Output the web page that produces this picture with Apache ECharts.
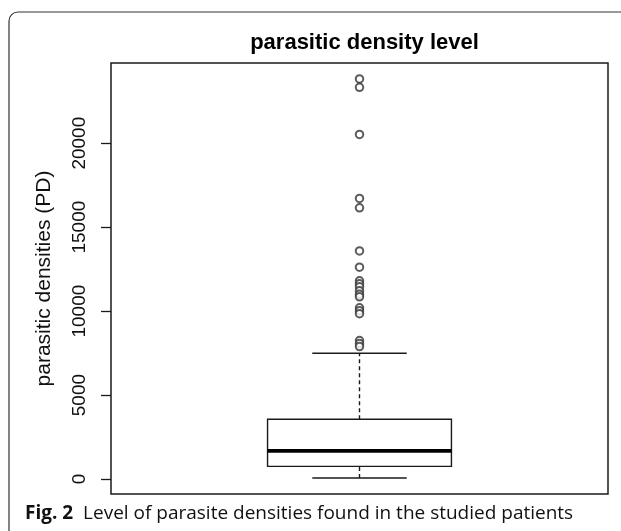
<!DOCTYPE html>
<html>
<head>
<meta charset="utf-8">
<script src="https://cdn.jsdelivr.net/npm/echarts@6/dist/echarts.min.js"></script>
<style>
  html, body { margin: 0; padding: 0; background: #fff; }
  #chart { width: 621px; height: 531px; }
</style>
</head>
<body>
<div id="chart"></div>
<script>
// ---- data ----
const categories = ['PD'];
// low whisker, Q1, median, Q3, high whisker
const boxStats = [59, 753, 1678, 3559, 7491];
const outliers = [23825, 23327, 20521, 16708, 16150, 13582, 12615, 11803, 11625,
                  11447, 11210, 11002, 10854, 10201, 10023, 9845, 8244, 8066, 7888];
const yTicks = [0, 5000, 10000, 15000, 20000];
const chartTitle = 'parasitic density level';
const yAxisTitle = 'parasitic densities (PD)';
const captionBold = 'Fig. 2';
const captionText = 'Level of parasite densities found in the studied patients';

// R-style axis range (data range extended by 4%)
const dataMin = Math.min(boxStats[0], ...outliers);
const dataMax = Math.max(boxStats[4], ...outliers);
const pad = (dataMax - dataMin) * 0.04;

const ink = '#1a1a1a';
const chart = echarts.init(document.getElementById('chart'), null, { renderer: 'canvas' });

chart.setOption({
  backgroundColor: '#fff',
  animation: false,
  title: {
    text: chartTitle,
    left: 359.5,
    textAlign: 'center',
    top: 27,
    textStyle: { fontFamily: 'Liberation Sans', fontWeight: 'bold', fontSize: 22, color: '#000' }
  },
  grid: {
    left: 111, right: 13, top: 63, bottom: 37,
    show: true, borderColor: ink, borderWidth: 1.5, backgroundColor: 'transparent'
  },
  xAxis: {
    type: 'category',
    data: categories,
    axisLine: { show: false },
    axisTick: { show: false },
    axisLabel: { show: false },
    splitLine: { show: false }
  },
  yAxis: {
    type: 'value',
    min: dataMin - pad,
    max: dataMax + pad,
    axisLine: { show: false },
    splitLine: { show: false },
    axisTick: { show: true, length: 10, customValues: yTicks, lineStyle: { color: ink, width: 1.3 } },
    axisLabel: {
      customValues: yTicks, rotate: 90, margin: 22,
      formatter: function (v) { return String(v); },
      fontFamily: 'Liberation Sans', fontSize: 19, color: '#111'
    },
    name: yAxisTitle,
    nameLocation: 'middle',
    nameRotate: 90,
    nameGap: 56,
    nameTextStyle: { fontFamily: 'Liberation Sans', fontSize: 21, color: '#111' }
  },
  series: [
    {
      type: 'custom',
      data: [[0].concat(boxStats)],
      encode: { x: 0, y: [1, 2, 3, 4, 5] },
      renderItem: function (params, api) {
        const xi = api.value(0);
        const pLow = api.coord([xi, api.value(1)]);
        const pQ1 = api.coord([xi, api.value(2)]);
        const pMed = api.coord([xi, api.value(3)]);
        const pQ3 = api.coord([xi, api.value(4)]);
        const pHigh = api.coord([xi, api.value(5)]);
        const band = api.size([1, 0])[0];
        const cx = pLow[0];
        const half = band * 0.185;
        const cap = band * 0.095;
        const lw = 1.4;
        return {
          type: 'group',
          children: [
            { type: 'line', shape: { x1: cx, y1: pQ3[1], x2: cx, y2: pHigh[1] },
              style: { stroke: ink, lineWidth: lw, lineDash: [4, 3] } },
            { type: 'line', shape: { x1: cx, y1: pLow[1], x2: cx, y2: pQ1[1] },
              style: { stroke: ink, lineWidth: lw, lineDash: [4, 3] } },
            { type: 'line', shape: { x1: cx - cap, y1: pHigh[1], x2: cx + cap, y2: pHigh[1] },
              style: { stroke: ink, lineWidth: lw } },
            { type: 'line', shape: { x1: cx - cap, y1: pLow[1], x2: cx + cap, y2: pLow[1] },
              style: { stroke: ink, lineWidth: lw } },
            { type: 'rect', shape: { x: cx - half, y: pQ3[1], width: 2 * half, height: pQ1[1] - pQ3[1] },
              style: { fill: '#fff', stroke: ink, lineWidth: lw } },
            { type: 'line', shape: { x1: cx - half, y1: pMed[1], x2: cx + half, y2: pMed[1] },
              style: { stroke: '#000', lineWidth: 3.6 } }
          ]
        };
      },
      z: 2
    },
    {
      type: 'scatter',
      data: outliers.map(v => [categories[0], v]),
      symbol: 'emptyCircle',
      symbolSize: 7.5,
      itemStyle: { color: '#333', borderColor: '#333', borderWidth: 0.9 },
      z: 3
    }
  ],
  graphic: [
    {
      type: 'rect',
      shape: { x: 9, y: 12, width: 700, height: 600, r: 9 },
      style: { fill: 'none', stroke: '#333', lineWidth: 1.2 },
      silent: true
    },
    {
      type: 'text',
      left: 25,
      top: 504,
      style: {
        text: '{b|' + captionBold + '}  ' + captionText,
        fontFamily: 'Open Sans',
        fontSize: 19,
        fill: '#111',
        rich: { b: { fontFamily: 'Open Sans', fontWeight: 'bold', fontSize: 19, fill: '#111' } }
      }
    }
  ]
});
</script>
</body>
</html>
